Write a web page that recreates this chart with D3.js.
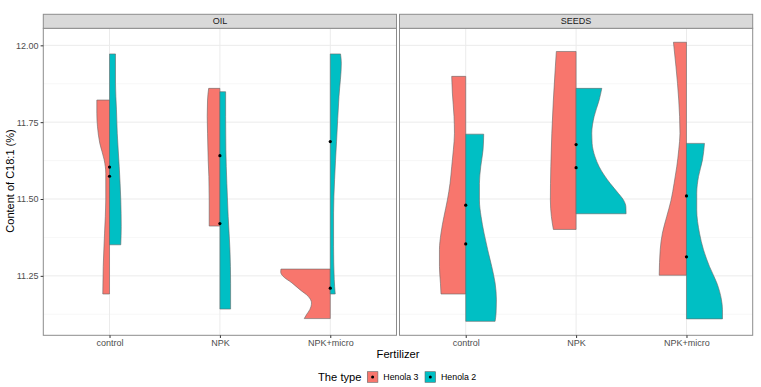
<!DOCTYPE html>
<html>
<head>
<meta charset="utf-8">
<script src="https://cdn.jsdelivr.net/npm/d3@7"></script>
<style>
  body { margin: 0; background: #fff; }
  text { font-family: "Liberation Sans", Arial, sans-serif; }
</style>
</head>
<body>
<div id="chart"></div>
<script>
// facets, categories, groups
var panels = ["OIL", "SEEDS"];
var fertilizers = ["control", "NPK", "NPK+micro"];
var types = ["Henola 3", "Henola 2"];
var colors = ["#F8766D", "#00BFC4"];
var yTicks = [11.25, 11.50, 11.75, 12.00];
var yMinor = [11.125, 11.375, 11.625, 11.875];

// violin outlines: [value, half width as share of category step]
var oilControlH3 = [[11.822, .115], [11.779, .115], [11.735, .109], [11.681, .088], [11.627, .048], [11.584, .034], [11.497, .034], [11.389, .045], [11.280, .057], [11.191, .061]];
var oilControlH2 = [[11.972, .054], [11.877, .054], [11.790, .063], [11.714, .070], [11.605, .088], [11.497, .102], [11.410, .106], [11.351, .102]];
var oilNpkH3 = [[11.860, .102], [11.822, .112], [11.768, .115], [11.714, .112], [11.627, .106], [11.573, .100], [11.497, .097], [11.412, .097]];
var oilNpkH2 = [[11.849, .052], [11.768, .052], [11.660, .054], [11.551, .063], [11.443, .075], [11.335, .091], [11.226, .097], [11.142, .097]];
var oilMicroH3 = [[11.272, .447], [11.262, .449], [11.248, .426], [11.227, .347], [11.205, .275], [11.183, .199], [11.162, .170], [11.140, .186], [11.124, .215], [11.111, .236]];
var oilMicroH2 = [[11.972, .093], [11.942, .100], [11.834, .079], [11.688, .057], [11.563, .039], [11.455, .030], [11.346, .030], [11.238, .036], [11.191, .045]];
var seedsControlH3 = [[11.899, .127], [11.845, .121], [11.769, .106], [11.714, .102], [11.660, .112], [11.605, .127], [11.551, .142], [11.497, .166], [11.443, .197], [11.389, .224], [11.335, .238], [11.280, .238], [11.226, .229], [11.191, .224]];
var seedsControlH2 = [[11.711, .163], [11.660, .157], [11.605, .136], [11.551, .124], [11.497, .124], [11.443, .139], [11.389, .166], [11.335, .199], [11.280, .236], [11.227, .266], [11.172, .278], [11.129, .275], [11.102, .266]];
var seedsNpkH3 = [[11.980, .179], [11.930, .188], [11.822, .206], [11.714, .220], [11.605, .229], [11.497, .233], [11.443, .224], [11.401, .206]];
var seedsNpkH2 = [[11.860, .233], [11.822, .209], [11.768, .163], [11.714, .142], [11.681, .145], [11.637, .172], [11.605, .209], [11.551, .308], [11.518, .384], [11.497, .429], [11.475, .451], [11.452, .453]];
var seedsMicroH3 = [[12.010, .118], [11.930, .095], [11.822, .070], [11.714, .059], [11.660, .070], [11.605, .088], [11.551, .112], [11.497, .139], [11.443, .179], [11.389, .218], [11.335, .238], [11.252, .247]];
var seedsMicroH2 = [[11.681, .163], [11.627, .145], [11.573, .109], [11.519, .093], [11.465, .093], [11.389, .118], [11.335, .154], [11.280, .209], [11.227, .275], [11.172, .317], [11.140, .326], [11.110, .326]];

// means per group (dots)
var oilMeans = [[11.604, 11.574], [11.641, 11.420], [11.687, 11.210]];
var seedsMeans = [[11.480, 11.354], [11.677, 11.602], [11.510, 11.312]];

var violins = [
    [[oilControlH3, oilControlH2], [oilNpkH3, oilNpkH2], [oilMicroH3, oilMicroH2]],
    [[seedsControlH3, seedsControlH2], [seedsNpkH3, seedsNpkH2], [seedsMicroH3, seedsMicroH2]]
];
var means = [oilMeans, seedsMeans];

var W = 761, H = 387;
var panelLeft = [43.3, 399.5], panelW = 353.2;
var panelTop = 28.3, panelH = 307, stripH = 14;

var svg = d3.select("#chart").append("svg")
    .attr("width", W).attr("height", H);

// shared y scale, 5% expansion like ggplot
var allVals = [];
violins.forEach(function (p) { p.forEach(function (c) { c.forEach(function (v) { v.forEach(function (d) { allVals.push(d[0]); }); }); }); });
var ext = d3.extent(allVals), pad = (ext[1] - ext[0]) * 0.05;
var y = d3.scaleLinear().domain([ext[0] - pad, ext[1] + pad]).range([panelH, 0]);

var x = d3.scalePoint().domain(fertilizers).range([0, panelW]).padding(0.6);

var edge = d3.line().x(function (d) { return d[0]; }).y(function (d) { return d[1]; })
    .curve(d3.curveMonotoneY);

panels.forEach(function (name, pi) {
    var g = svg.append("g").attr("transform", "translate(" + panelLeft[pi] + "," + panelTop + ")");

    // grid
    g.selectAll(".minor").data(yMinor).enter().append("line")
        .attr("x1", 0).attr("x2", panelW)
        .attr("y1", d => y(d)).attr("y2", d => y(d))
        .attr("stroke", "#F2F2F2").attr("stroke-width", 0.6);
    g.selectAll(".major").data(yTicks).enter().append("line")
        .attr("x1", 0).attr("x2", panelW)
        .attr("y1", d => y(d)).attr("y2", d => y(d))
        .attr("stroke", "#EBEBEB").attr("stroke-width", 1);
    g.selectAll(".vmajor").data(fertilizers).enter().append("line")
        .attr("x1", d => x(d)).attr("x2", d => x(d))
        .attr("y1", 0).attr("y2", panelH)
        .attr("stroke", "#EBEBEB").attr("stroke-width", 1);

    // split violins
    fertilizers.forEach(function (f, fi) {
        var cx = x(f);
        violins[pi][fi].forEach(function (prof, ti) {
            var side = ti === 0 ? -1 : 1;
            var pts = prof.map(function (d) { return [cx + side * d[1] * x.step(), y(d[0])]; });
            var top = y(prof[0][0]), bot = y(prof[prof.length - 1][0]);
            var d = "M" + cx + "," + top + "L" + edge(pts).slice(1) +
                "L" + cx + "," + bot + "Z";
            g.append("path").attr("d", d)
                .attr("fill", colors[ti])
                .attr("stroke", "#666").attr("stroke-width", 0.6);
        });
        means[pi][fi].forEach(function (m) {
            g.append("circle").attr("cx", cx).attr("cy", y(m)).attr("r", 1.6).attr("fill", "#000");
        });
    });

    // border
    g.append("rect").attr("x", 0).attr("y", 0).attr("width", panelW).attr("height", panelH)
        .attr("fill", "none").attr("stroke", "#8c8c8c").attr("stroke-width", 1);

    // strip
    g.append("rect").attr("x", 0).attr("y", -stripH).attr("width", panelW).attr("height", stripH)
        .attr("fill", "#D9D9D9").attr("stroke", "#8c8c8c").attr("stroke-width", 1);
    g.append("text").attr("x", panelW / 2).attr("y", -stripH / 2).attr("dy", "0.35em")
        .attr("text-anchor", "middle").attr("font-size", 9).attr("fill", "#1A1A1A").text(name);

    // x axis
    var xa = g.append("g").attr("transform", "translate(0," + panelH + ")")
        .call(d3.axisBottom(x).tickSize(2.7).tickPadding(2));
    xa.select(".domain").remove();
    xa.selectAll("line").attr("stroke", "#333");
    xa.selectAll("text").attr("font-size", 9).attr("fill", "#4D4D4D")
        .attr("font-family", "Liberation Sans, Arial, sans-serif");

    if (pi === 0) {
        var ya = g.append("g")
            .call(d3.axisLeft(y).tickValues(yTicks).tickFormat(d3.format(".2f")).tickSize(2.7).tickPadding(2));
        ya.select(".domain").remove();
        ya.selectAll("line").attr("stroke", "#333");
        ya.selectAll("text").attr("font-size", 9).attr("fill", "#4D4D4D")
            .attr("font-family", "Liberation Sans, Arial, sans-serif");
    }
});

// axis titles
svg.append("text").attr("x", 398).attr("y", 358).attr("text-anchor", "middle")
    .attr("font-size", 11.2).attr("fill", "#000").text("Fertilizer");
svg.append("text").attr("transform", "translate(14,181) rotate(-90)")
    .attr("text-anchor", "middle").attr("font-size", 11).attr("fill", "#000")
    .text("Content of C18:1 (%)");

// legend
var leg = svg.append("g").attr("transform", "translate(318,377)");
leg.append("text").attr("x", 0).attr("y", 0).attr("dy", "0.35em")
    .attr("font-size", 11.2).attr("fill", "#000").text("The type");
var keyX = [49.3, 107];
types.forEach(function (t, i) {
    var k = leg.append("g").attr("transform", "translate(" + keyX[i] + ",0)");
    k.append("rect").attr("x", 0).attr("y", -5.3).attr("width", 10.6).attr("height", 10.6)
        .attr("fill", colors[i]).attr("stroke", "#666").attr("stroke-width", 0.6);
    k.append("circle").attr("cx", 5.3).attr("cy", 0).attr("r", 1.5).attr("fill", "#000");
    k.append("text").attr("x", 16).attr("y", 0).attr("dy", "0.35em")
        .attr("font-size", 8.8).attr("fill", "#000").text(t);
});
</script>
</body>
</html>
